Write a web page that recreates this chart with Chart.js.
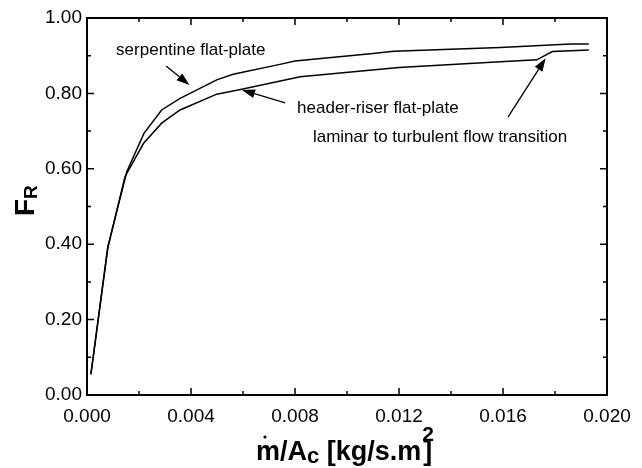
<!DOCTYPE html>
<html>
<head>
<meta charset="utf-8">
<script src="https://cdn.jsdelivr.net/npm/chart.js@4.4.0/dist/chart.umd.min.js"></script>
<style>
    html, body { margin: 0; padding: 0; background: #fff; }
    #wrap { width: 642px; height: 468px; }
</style>
</head>
<body>
<div id="wrap"><canvas id="chart" width="642" height="468"></canvas></div>
<script>
// serpentine flat-plate curve
const serpX = [0.00015, 0.0008, 0.00153, 0.00219, 0.00287, 0.00358, 0.00499, 0.00562, 0.00742, 0.0080, 0.0110, 0.0118, 0.0159, 0.0186, 0.0193];
const serpY = [0.055, 0.393, 0.592, 0.694, 0.756, 0.787, 0.836, 0.851, 0.877, 0.886, 0.906, 0.912, 0.922, 0.931, 0.931];

// header-riser flat-plate curve
const headX = [0.00015, 0.0008, 0.00146, 0.00217, 0.00287, 0.00358, 0.00499, 0.00595, 0.0082, 0.0120, 0.0159, 0.0173, 0.0179, 0.0193];
const headY = [0.055, 0.390, 0.579, 0.667, 0.721, 0.756, 0.798, 0.811, 0.844, 0.869, 0.884, 0.889, 0.911, 0.915];

// axis ticks
const xTicks = [0, 0.004, 0.008, 0.012, 0.016, 0.020];
const yTicks = [0, 0.2, 0.4, 0.6, 0.8, 1.0];

// annotations: text position and arrow (tail -> head) in data units
const notes = [
    { text: 'serpentine flat-plate', x: 0.00112, y: 0.915, from: [0.00304, 0.873], to: [0.00394, 0.822] },
    { text: 'header-riser flat-plate', x: 0.00808, y: 0.761, from: [0.00762, 0.775], to: [0.00596, 0.809] },
    { text: 'laminar to turbulent flow transition', x: 0.00869, y: 0.684, from: [0.01619, 0.737], to: [0.01764, 0.893] }
];

function toPoints(xs, ys) {
    return xs.map((x, i) => ({ x: x, y: ys[i] }));
}

// frame with inward ticks on all four sides
const framePlugin = {
    id: 'frame',
    afterDraw(chart) {
        const ctx = chart.ctx;
        const a = chart.chartArea;
        const xs = chart.scales.x;
        const ys = chart.scales.y;
        ctx.save();
        ctx.strokeStyle = '#000';
        ctx.lineWidth = 2;
        ctx.strokeRect(a.left, a.top, a.right - a.left, a.bottom - a.top);
        ctx.lineWidth = 1.5;
        ctx.beginPath();
        for (let i = 0; i < xTicks.length; i++) {
            const px = xs.getPixelForValue(xTicks[i]);
            ctx.moveTo(px, a.bottom); ctx.lineTo(px, a.bottom - 7);
            ctx.moveTo(px, a.top); ctx.lineTo(px, a.top + 7);
            if (i < xTicks.length - 1) {
                const pm = xs.getPixelForValue((xTicks[i] + xTicks[i + 1]) / 2);
                ctx.moveTo(pm, a.bottom); ctx.lineTo(pm, a.bottom - 4);
                ctx.moveTo(pm, a.top); ctx.lineTo(pm, a.top + 4);
            }
        }
        for (let i = 0; i < yTicks.length; i++) {
            const py = ys.getPixelForValue(yTicks[i]);
            ctx.moveTo(a.left, py); ctx.lineTo(a.left + 7, py);
            ctx.moveTo(a.right, py); ctx.lineTo(a.right - 7, py);
            if (i < yTicks.length - 1) {
                const pm = ys.getPixelForValue((yTicks[i] + yTicks[i + 1]) / 2);
                ctx.moveTo(a.left, pm); ctx.lineTo(a.left + 4, pm);
                ctx.moveTo(a.right, pm); ctx.lineTo(a.right - 4, pm);
            }
        }
        ctx.stroke();
        ctx.restore();
    }
};

// text labels and arrows inside the plot
const notesPlugin = {
    id: 'notes',
    afterDraw(chart) {
        const ctx = chart.ctx;
        const xs = chart.scales.x;
        const ys = chart.scales.y;
        ctx.save();
        ctx.fillStyle = '#000';
        ctx.strokeStyle = '#000';
        ctx.font = '17px "Liberation Sans", Arial, sans-serif';
        ctx.textBaseline = 'middle';
        ctx.textAlign = 'left';
        notes.forEach(n => {
            ctx.fillText(n.text, xs.getPixelForValue(n.x), ys.getPixelForValue(n.y));
            const x1 = xs.getPixelForValue(n.from[0]), y1 = ys.getPixelForValue(n.from[1]);
            const x2 = xs.getPixelForValue(n.to[0]), y2 = ys.getPixelForValue(n.to[1]);
            const ang = Math.atan2(y2 - y1, x2 - x1);
            const len = 13, half = 4.5;
            const bx = x2 - len * Math.cos(ang), by = y2 - len * Math.sin(ang);
            ctx.lineWidth = 1.3;
            ctx.beginPath();
            ctx.moveTo(x1, y1);
            ctx.lineTo(bx, by);
            ctx.stroke();
            ctx.beginPath();
            ctx.moveTo(x2, y2);
            ctx.lineTo(bx + half * Math.sin(ang), by - half * Math.cos(ang));
            ctx.lineTo(bx - half * Math.sin(ang), by + half * Math.cos(ang));
            ctx.closePath();
            ctx.fill();
        });
        ctx.restore();
    }
};

// axis titles with sub/superscripts
const titlesPlugin = {
    id: 'titles',
    afterDraw(chart) {
        const ctx = chart.ctx;
        const fam = '"Liberation Sans", Arial, sans-serif';
        ctx.save();
        ctx.fillStyle = '#000';
        ctx.textBaseline = 'alphabetic';
        ctx.textAlign = 'left';

        // x title: m-dot / A_c [kg/s.m^2]
        let x = 256, base = 460;
        ctx.font = 'bold 27px ' + fam;
        const mW = ctx.measureText('m').width;
        ctx.fillText('m/A', x, base);
        x += ctx.measureText('m/A').width;
        ctx.font = 'bold 22px ' + fam;
        ctx.fillText('c', x, base + 3);
        x += ctx.measureText('c').width;
        ctx.font = 'bold 27px ' + fam;
        ctx.fillText(' [kg/s.m', x, base);
        x += ctx.measureText(' [kg/s.m').width;
        ctx.font = 'bold 21px ' + fam;
        ctx.fillText('2', x + 1, base - 19);
        ctx.font = 'bold 27px ' + fam;
        ctx.fillText(']', x + 2, base);
        // dot over m
        ctx.beginPath();
        ctx.arc(256 + mW / 2 - 3, base - 23, 1.6, 0, Math.PI * 2);
        ctx.fill();

        // y title: F_R
        ctx.translate(34, 216);
        ctx.rotate(-Math.PI / 2);
        ctx.font = 'bold 28px ' + fam;
        ctx.fillText('F', 0, 0);
        const fW = ctx.measureText('F').width;
        ctx.font = 'bold 19px ' + fam;
        ctx.fillText('R', fW, 3);
        ctx.restore();
    }
};

new Chart(document.getElementById('chart'), {
    type: 'line',
    data: {
        datasets: [
            {
                label: 'serpentine flat-plate',
                data: toPoints(serpX, serpY),
                borderColor: '#000',
                borderWidth: 1.5,
                pointRadius: 0,
                tension: 0,
                fill: false
            },
            {
                label: 'header-riser flat-plate',
                data: toPoints(headX, headY),
                borderColor: '#000',
                borderWidth: 1.5,
                pointRadius: 0,
                tension: 0,
                fill: false
            }
        ]
    },
    options: {
        responsive: false,
        animation: false,
        layout: { padding: { left: 0, right: 35, top: 18, bottom: 0 } },
        plugins: {
            legend: { display: false },
            tooltip: { enabled: false }
        },
        scales: {
            x: {
                type: 'linear',
                min: 0,
                max: 0.02,
                afterBuildTicks: s => { s.ticks = xTicks.map(v => ({ value: v })); },
                afterFit: s => { s.height = 73; },
                grid: { display: false, drawTicks: false, tickLength: 0 },
                border: { display: false },
                ticks: {
                    color: '#000',
                    padding: 10,
                    maxRotation: 0,
                    font: { family: '"Liberation Sans", Arial, sans-serif', size: 19 },
                    callback: v => v.toFixed(3)
                }
            },
            y: {
                type: 'linear',
                min: 0,
                max: 1,
                afterBuildTicks: s => { s.ticks = yTicks.map(v => ({ value: v })); },
                afterFit: s => { s.width = 87; },
                grid: { display: false, drawTicks: false, tickLength: 0 },
                border: { display: false },
                ticks: {
                    color: '#000',
                    padding: 5,
                    font: { family: '"Liberation Sans", Arial, sans-serif', size: 19 },
                    callback: v => v.toFixed(2)
                }
            }
        }
    },
    plugins: [framePlugin, notesPlugin, titlesPlugin]
});
</script>
</body>
</html>
